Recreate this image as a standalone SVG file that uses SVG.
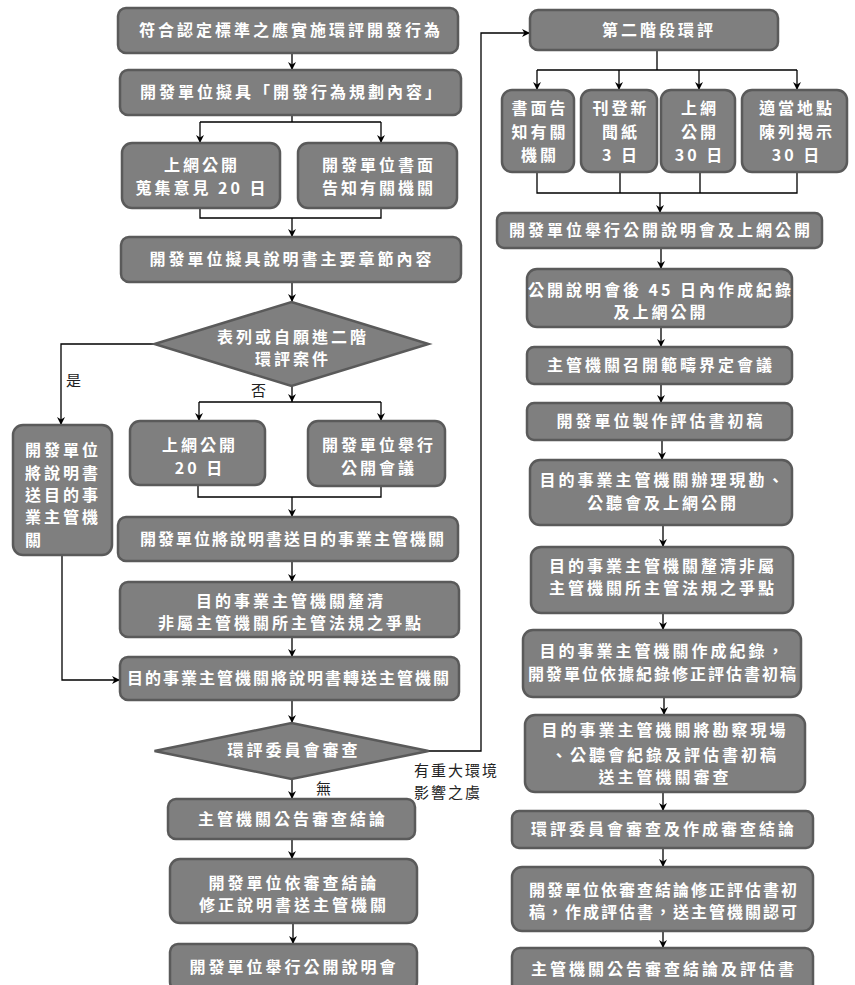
<svg xmlns="http://www.w3.org/2000/svg" width="855" height="985" viewBox="0 0 855 985">
<style>
.b{fill:#7f7f7f;stroke:#5a5a5a;stroke-width:2.5}
.t{fill:#ffffff;font-family:"Noto Sans CJK TC","Noto Sans CJK SC",sans-serif;font-size:16px;font-weight:bold;letter-spacing:3px;text-anchor:middle}
.ts{letter-spacing:2px}
.tl{text-anchor:start}
.lb{fill:#222;font-family:"Noto Sans CJK TC","Noto Sans CJK SC",sans-serif;font-size:15px;letter-spacing:2px}
.c{fill:none;stroke:#000;stroke-width:1.3}
.a{marker-end:url(#ar)}
</style>
<defs>
<marker id="ar" viewBox="0 0 10 10" refX="10" refY="5" markerWidth="8" markerHeight="8" markerUnits="userSpaceOnUse" orient="auto">
<path d="M0,0 L10,5 L0,10 L3,5 z" fill="#000"/>
</marker>
</defs>

<g id="connectors">
<path class="c a" d="M292,53 V70"/>
<path class="c" d="M292,115 V122 M200,122 H381"/>
<path class="c a" d="M200,122 V143"/>
<path class="c a" d="M381,122 V143"/>
<path class="c" d="M200,208 V218 H381 V208"/>
<path class="c a" d="M292,218 V237"/>
<path class="c a" d="M292,282 V302"/>
<path class="c a" d="M155,344 H61 V425"/>
<path class="c a" d="M292,386 V402"/>
<path class="c" d="M199,402 H381"/>
<path class="c a" d="M199,402 V421"/>
<path class="c a" d="M381,402 V421"/>
<path class="c" d="M198,485 V497 H381 V486"/>
<path class="c a" d="M292,497 V517"/>
<path class="c a" d="M292,561 V582"/>
<path class="c a" d="M292,637 V657"/>
<path class="c a" d="M62,555 V680 H120"/>
<path class="c a" d="M292,700 V723"/>
<path class="c a" d="M292,779 V799"/>
<path class="c a" d="M428,751 H481 V33 H530"/>
<path class="c a" d="M292,839 V859"/>
<path class="c a" d="M293,923 V944"/>
<path class="c" d="M657,50 V70 M537,70 H797"/>
<path class="c a" d="M537,70 V90"/>
<path class="c a" d="M619,70 V90"/>
<path class="c a" d="M699,70 V90"/>
<path class="c a" d="M797,70 V90"/>
<path class="c" d="M537,172 V193 H797 V172 M620,172 V193 M700,172 V193"/>
<path class="c a" d="M660,193 V213"/>
<path class="c a" d="M661,248 V269"/>
<path class="c a" d="M661,327 V347"/>
<path class="c a" d="M661,384 V403"/>
<path class="c a" d="M662,440 V460"/>
<path class="c a" d="M663,525 V547"/>
<path class="c a" d="M663,613 V630"/>
<path class="c a" d="M664,697 V715"/>
<path class="c a" d="M663,792 V811"/>
<path class="c a" d="M663,848 V867"/>
<path class="c a" d="M663,931 V948"/>
<text class="lb" x="66" y="386">是</text>
<text class="lb" x="251" y="396">否</text>
<text class="lb" x="316" y="794">無</text>
<text class="lb" x="414" y="776">有重大環境</text>
<text class="lb" x="414" y="798">影響之虞</text>
</g>

<g id="n1"><rect class="b" x="118" y="8" width="340" height="45" rx="8"/><text class="t" x="291" y="36">符合認定標準之應實施環評開發行為</text></g>
<g id="n2"><rect class="b" x="120" y="70" width="341" height="45" rx="8"/><text class="t" x="292" y="98">開發單位擬具「開發行為規劃內容」</text></g>
<g id="n3a"><rect class="b" x="122" y="143" width="158" height="65" rx="10"/><text class="t" x="202" y="171">上網公開</text><text class="t" x="202" y="194">蒐集意見 20 日</text></g>
<g id="n3b"><rect class="b" x="298" y="143" width="159" height="65" rx="10"/><text class="t" x="379" y="171">開發單位書面</text><text class="t" x="379" y="194">告知有關機關</text></g>
<g id="n4"><rect class="b" x="121" y="237" width="340" height="45" rx="8"/><text class="t" x="292" y="265">開發單位擬具說明書主要章節內容</text></g>
<g id="d1"><polygon class="b" points="291.5,302 428.5,344 291.5,386 154.5,344"/><text class="t" x="293" y="343">表列或自願進二階</text><text class="t" x="293" y="365">環評案件</text></g>
<g id="nL"><rect class="b" x="13" y="425" width="99" height="130" rx="10"/><text class="t tl" x="25" y="456">開發單位</text><text class="t tl" x="25" y="479">將說明書</text><text class="t tl" x="25" y="501">送目的事</text><text class="t tl" x="25" y="523">業主管機</text><text class="t tl" x="25" y="546">關</text></g>
<g id="n5a"><rect class="b" x="130" y="421" width="135" height="64" rx="10"/><text class="t" x="200" y="451">上網公開</text><text class="t" x="200" y="474">20 日</text></g>
<g id="n5b"><rect class="b" x="308" y="421" width="137" height="65" rx="10"/><text class="t" x="379" y="451">開發單位舉行</text><text class="t" x="379" y="474">公開會議</text></g>
<g id="n6"><rect class="b" x="118" y="517" width="340" height="44" rx="8"/><text class="t ts" x="293" y="545">開發單位將說明書送目的事業主管機關</text></g>
<g id="n7"><rect class="b" x="120" y="582" width="339" height="55" rx="8"/><text class="t" x="291" y="607">目的事業主管機關釐清</text><text class="t" x="291" y="629">非屬主管機關所主管法規之爭點</text></g>
<g id="n8"><rect class="b" x="120" y="657" width="339" height="43" rx="8"/><text class="t ts" x="289" y="684">目的事業主管機關將說明書轉送主管機關</text></g>
<g id="d2"><polygon class="b" points="291.5,723 428.5,751 291.5,779 154.5,751"/><text class="t" x="294" y="756">環評委員會審查</text></g>
<g id="n9"><rect class="b" x="168" y="799" width="247" height="40" rx="8"/><text class="t" x="293" y="825">主管機關公告審查結論</text></g>
<g id="n10"><rect class="b" x="170" y="859" width="247" height="64" rx="10"/><text class="t" x="294" y="889">開發單位依審查結論</text><text class="t" x="294" y="911">修正說明書送主管機關</text></g>
<g id="n11"><rect class="b" x="170" y="944" width="247" height="46" rx="8"/><text class="t" x="294" y="973">開發單位舉行公開說明會</text></g>

<g id="r1"><rect class="b" x="530" y="10" width="248" height="40" rx="8"/><text class="t" x="659" y="36">第二階段環評</text></g>
<g id="r2a"><rect class="b" x="502" y="90" width="72" height="82" rx="10"/><text class="t" x="540" y="114">書面告</text><text class="t" x="540" y="138">知有關</text><text class="t" x="540" y="161">機關</text></g>
<g id="r2b"><rect class="b" x="581" y="90" width="76" height="82" rx="10"/><text class="t" x="621" y="114">刊登新</text><text class="t" x="621" y="138">聞紙</text><text class="t" x="621" y="161">3 日</text></g>
<g id="r2c"><rect class="b" x="661" y="90" width="74" height="82" rx="10"/><text class="t" x="700" y="114">上網</text><text class="t" x="700" y="138">公開</text><text class="t" x="700" y="161">30 日</text></g>
<g id="r2d"><rect class="b" x="742" y="90" width="105" height="82" rx="10"/><text class="t" x="797" y="114">適當地點</text><text class="t" x="797" y="138">陳列揭示</text><text class="t" x="797" y="161">30 日</text></g>
<g id="r3"><rect class="b" x="497" y="213" width="325" height="35" rx="7"/><text class="t" x="661" y="236">開發單位舉行公開說明會及上網公開</text></g>
<g id="r4"><rect class="b" x="527" y="269" width="265" height="58" rx="10"/><text class="t" x="661" y="296">公開說明會後 45 日內作成紀錄</text><text class="t" x="661" y="318">及上網公開</text></g>
<g id="r5"><rect class="b" x="527" y="347" width="265" height="37" rx="7"/><text class="t" x="661" y="371">主管機關召開範疇界定會議</text></g>
<g id="r6"><rect class="b" x="527" y="403" width="265" height="37" rx="7"/><text class="t" x="661" y="427">開發單位製作評估書初稿</text></g>
<g id="r7"><rect class="b" x="530" y="460" width="262" height="65" rx="10"/><text class="t" x="663" y="486">目的事業主管機關辦理現勘、</text><text class="t" x="663" y="509">公聽會及上網公開</text></g>
<g id="r8"><rect class="b" x="531" y="547" width="262" height="66" rx="10"/><text class="t" x="663" y="572">目的事業主管機關釐清非屬</text><text class="t" x="663" y="594">主管機關所主管法規之爭點</text></g>
<g id="r9"><rect class="b" x="523" y="630" width="278" height="67" rx="10"/><text class="t" x="663" y="657">目的事業主管機關作成紀錄，</text><text class="t ts" x="663" y="680">開發單位依據紀錄修正評估書初稿</text></g>
<g id="r10"><rect class="b" x="525" y="715" width="280" height="77" rx="10"/><text class="t" x="665" y="736">目的事業主管機關將勘察現場</text><text class="t" x="665" y="761">、公聽會紀錄及評估書初稿</text><text class="t" x="665" y="783">送主管機關審查</text></g>
<g id="r11"><rect class="b" x="512" y="811" width="301" height="37" rx="7"/><text class="t" x="664" y="835">環評委員會審查及作成審查結論</text></g>
<g id="r12"><rect class="b" x="512" y="867" width="301" height="64" rx="10"/><text class="t ts" x="664" y="896">開發單位依審查結論修正評估書初</text><text class="t ts" x="664" y="918">稿，作成評估書，送主管機關認可</text></g>
<g id="r13"><rect class="b" x="512" y="948" width="301" height="44" rx="8"/><text class="t" x="664" y="975">主管機關公告審查結論及評估書</text></g>
</svg>
